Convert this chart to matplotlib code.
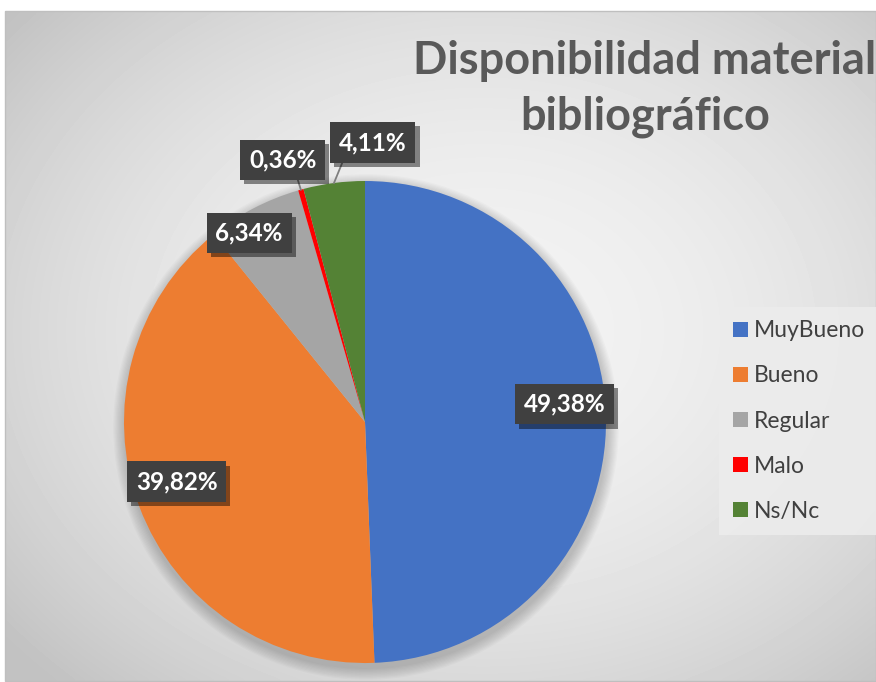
import numpy as np
import matplotlib
matplotlib.use('Agg')
import matplotlib.pyplot as plt
from matplotlib.patches import Circle, Rectangle, Patch
import matplotlib.patheffects as pe

# Datos
categorias = ['MuyBueno', 'Bueno', 'Regular', 'Malo', 'Ns/Nc']
porcentajes = [49.38, 39.82, 6.34, 0.36, 4.11]
etiquetas = ['49,38%', '39,82%', '6,34%', '0,36%', '4,11%']
colores = ['#4472C4', '#ED7D31', '#A5A5A5', '#FF0000', '#548235']
titulo = 'Disponibilidad material\nbibliográfico'

# distancia de cada etiqueta (en radios) y desplazamiento angular (grados)
dist_etiqueta = [0.83, 0.82, 0.92, 1.14, 1.16]
ajuste_angulo = [4, -3, 4, 2, -9]

W, H = 876, 682
fig = plt.figure(figsize=(W / 100, H / 100), dpi=100)
fig.patch.set_facecolor('white')
ax = fig.add_axes([0, 0, 1, 1])

# fondo con degradado radial
yy, xx = np.mgrid[0:200, 0:256]
r = np.sqrt(((xx - 140) / 150.0) ** 2 + ((yy - 95) / 120.0) ** 2)
fondo = np.clip(0.95 - 0.13 * r ** 2, 0.76, 0.95)
ax.imshow(fondo, cmap='gray', vmin=0, vmax=1, extent=(5, 876, 1, 671),
          origin='upper', aspect='auto', interpolation='bicubic', zorder=0)
ax.add_patch(Rectangle((5, 1), 871, 670, fill=False, ec='#bfbfbf', lw=1, zorder=1))

cx, cy, R = 365, 260, 241

# sombra del pastel
for i in range(10):
    ax.add_patch(Circle((cx + 1, cy - 5), R + 1 + i * 1.2, color='black',
                        alpha=0.018, lw=0, zorder=1))

wedges, _ = ax.pie(porcentajes, colors=colores, startangle=90, counterclock=False,
                   radius=R, center=(cx, cy), wedgeprops=dict(lw=0, zorder=2))

sombra = [pe.SimplePatchShadow(offset=(3, -3), shadow_rgbFace='black', alpha=0.45),
          pe.Normal()]
for w, txt, d, da in zip(wedges, etiquetas, dist_etiqueta, ajuste_angulo):
    ang = (w.theta1 + w.theta2) / 2
    a = np.deg2rad(ang + da)
    tx, ty = cx + d * R * np.cos(a), cy + d * R * np.sin(a)
    if d > 1:
        a0 = np.deg2rad(ang)
        x0, y0 = cx + R * np.cos(a0), cy + R * np.sin(a0)
        ax.plot([x0, x0 + 0.3 * (tx - x0)], [y0, ty - 12], color='#7f7f7f',
                lw=1.3, zorder=3)
    t = ax.text(tx, ty, txt, ha='center', va='center', color='white',
                fontsize=17.5, fontweight='bold', family='Lato', zorder=5,
                bbox=dict(boxstyle='square,pad=0.36', fc='#404040', ec='none'))
    t.get_bbox_patch().set_path_effects(sombra)

ax.text(645, 593, titulo, ha='center', va='center', fontsize=32.5, fontweight='bold',
        color='#595959', family='Lato', linespacing=1.38, zorder=5)

handles = [Patch(facecolor=c, edgecolor='none') for c in colores]
leg = ax.legend(handles, categorias, loc='center left', bbox_to_anchor=(719 / W, 261 / H),
                frameon=True, fancybox=False, labelspacing=1.05,
                handlelength=0.65, handleheight=0.65, handletextpad=0.25,
                borderpad=0.6, borderaxespad=0, prop={'family': 'Lato', 'size': 16.5})
leg.get_frame().set_facecolor('#ececec')
leg.get_frame().set_edgecolor('none')
leg.get_frame().set_alpha(0.9)
for t in leg.get_texts():
    t.set_color('#404040')

ax.set_xlim(0, W)
ax.set_ylim(0, H)
ax.set_aspect('auto')
ax.axis('off')

fig.savefig('out.png', dpi=100, facecolor='white')
